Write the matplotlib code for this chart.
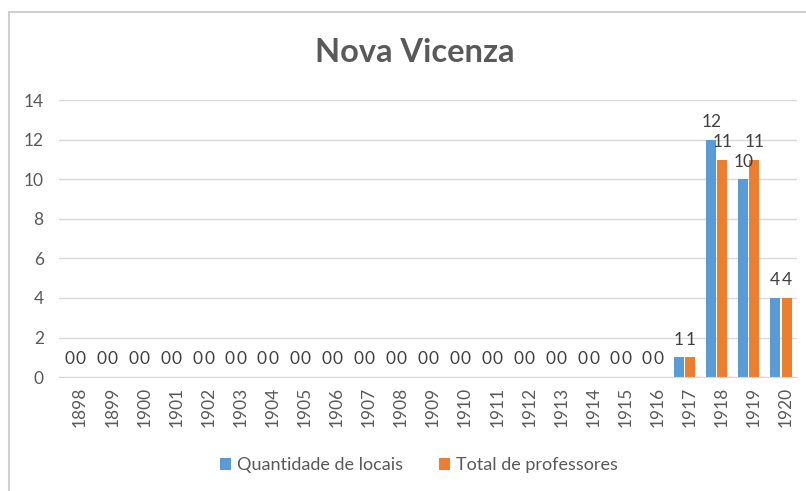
import matplotlib.pyplot as plt
import numpy as np
from matplotlib.lines import Line2D
from matplotlib.transforms import ScaledTranslation

plt.rcParams['font.family'] = ['Lato', 'DejaVu Sans']

years = [str(y) for y in range(1898, 1921)]
locais = [0] * 19 + [1, 12, 10, 4]
professores = [0] * 19 + [1, 11, 11, 4]

blue = '#5b9bd5'
orange = '#ed7d31'
gray = '#595959'

fig = plt.figure(figsize=(8.06, 4.91), dpi=100)
ax = fig.add_axes([0.0732, 0.232, 0.9156, 0.564])

x = np.arange(len(years))
w = 0.31
b1 = ax.bar(x - w / 2 - 0.02, locais, w, color=blue, label='Quantidade de locais')
b2 = ax.bar(x + w / 2 + 0.02, professores, w, color=orange, label='Total de professores')

for bars, vals in ((b1, locais), (b2, professores)):
    for r, v in zip(bars, vals):
        ax.annotate(str(v), (r.get_x() + r.get_width() / 2, v), xytext=(0, 7),
                    textcoords='offset points', ha='center', va='bottom',
                    fontsize=12.5, color='#404040')

ax.set_xlim(-0.5, len(years) - 0.5)
ax.set_ylim(0, 14)
ax.set_yticks(range(0, 15, 2))
ax.set_xticks(x)
ax.set_xticklabels(years, rotation=90)
ax.tick_params(axis='both', length=0, labelsize=12.5, colors=gray)
ax.tick_params(axis='x', pad=7)
ax.tick_params(axis='y', pad=11)
shift = ScaledTranslation(5 / 100, 0, fig.dpi_scale_trans)
for lab in ax.get_xticklabels():
    lab.set_transform(lab.get_transform() + shift)
ax.grid(axis='y', color='#d9d9d9', linewidth=1)
ax.set_axisbelow(True)
for s in ('top', 'right', 'left'):
    ax.spines[s].set_visible(False)
ax.spines['bottom'].set_color('#d9d9d9')

fig.text(0.514, 0.894, 'Nova Vicenza', ha='center', va='center',
         fontsize=23.5, fontweight='bold', color=gray)

fig.legend(handles=[b1, b2], loc='center', bbox_to_anchor=(0.52, 0.052), ncol=2,
           frameon=False, fontsize=13, labelcolor=gray, handlelength=0.6,
           handleheight=0.6, handletextpad=0.35, columnspacing=2.0)

fig.add_artist(Line2D([0.011, 0.011], [0, 0.976], color='#d0d0d0', linewidth=1.5))
fig.add_artist(Line2D([0.011, 1.0], [0.976, 0.976], color='#d0d0d0', linewidth=1.5))

fig.savefig('out.png', dpi=100, facecolor='white')
